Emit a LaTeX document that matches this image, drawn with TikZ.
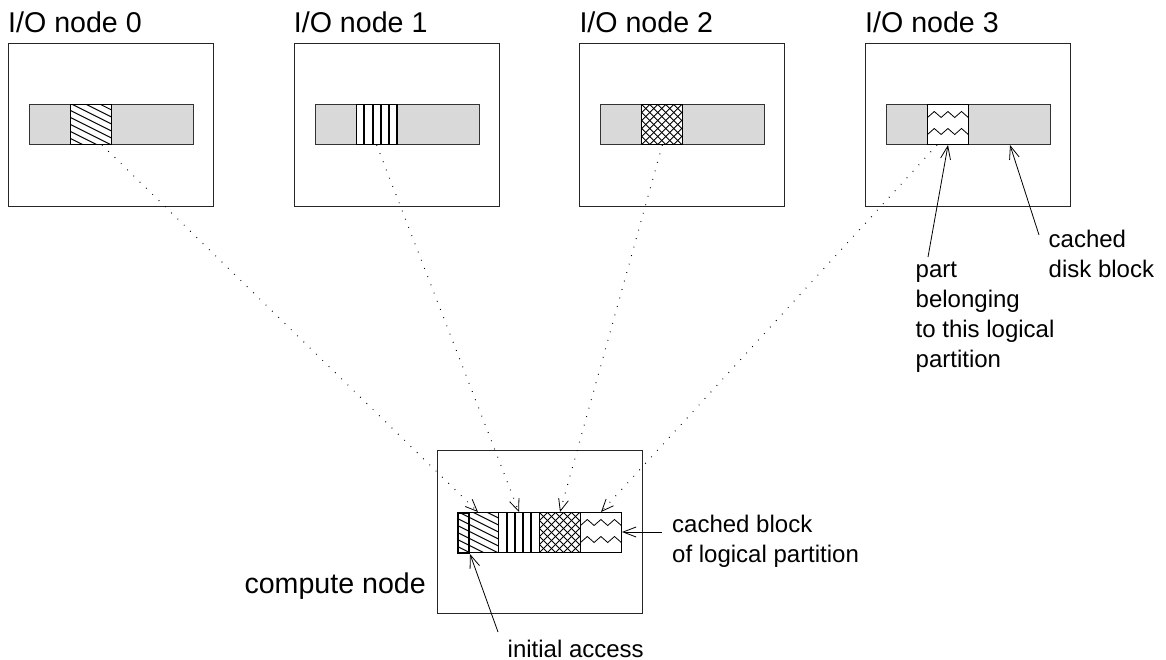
\documentclass[tikz,border=0pt]{standalone}
\usepackage{fontspec}
\setmainfont{Liberation Sans}
\usetikzlibrary{arrows.meta}
\definecolor{barfill}{HTML}{D9D9D9}
\begin{document}
\begin{tikzpicture}[x=1pt,y=-1pt,
  nodebox/.style={draw=black!85, line width=1pt, minimum width=205pt, minimum height=163pt, inner sep=0pt, anchor=north west},
  bar/.style={draw=black!80, fill=barfill, line width=1pt, minimum width=164pt, minimum height=40pt, inner sep=0pt, anchor=north west},
  seg/.style={draw=black, line width=1pt, fill=white, minimum width=41pt, minimum height=40pt, inner sep=0pt, anchor=north west},
  diaghatch/.style={path picture={\foreach \k in {-5,...,7} \draw[line width=0.9pt] ([yshift=-6pt-7pt*\k]path picture bounding box.north west) -- ++(50,25);}},
  crosshatch/.style={path picture={\foreach \k in {-7,...,12} {\draw[line width=0.8pt] ([xshift=8pt*\k]path picture bounding box.north west) -- ++(50,50); \draw[line width=0.8pt] ([xshift=8pt*\k]path picture bounding box.north west) -- ++(-50,50);}}},
  stripes/.style={path picture={\foreach \k in {1,...,5} \draw[line width=2pt] ([xshift=8.2pt*\k]path picture bounding box.north west) -- ++(0,45);}},
  zigzag/.style={path picture={\foreach \o in {13,30} \draw[line width=0.8pt] ([yshift=-\o pt]path picture bounding box.north west) -- ++(6.8,-6) -- ++(6.8,6) -- ++(6.8,-6) -- ++(6.8,6) -- ++(6.8,-6) -- ++(6.8,6);}},
  big/.style={font=\fontsize{28.6}{34}\selectfont, inner sep=0pt, anchor=base west},
  small/.style={font=\fontsize{24}{30}\selectfont, inner sep=0pt, anchor=base west, align=left},
  link/.style={line width=1pt, dash pattern=on 0.8pt off 8pt, -{Straight Barb[length=12pt,width=10pt,line width=0.8pt]}},
  pointer/.style={line width=0.8pt, -{Straight Barb[length=13pt,width=10pt]}},
]
\useasboundingbox (0,0) rectangle (1166,660);

% I/O nodes
\foreach \i/\bx/\pat in {0/8/diaghatch, 1/293.7/stripes, 2/579.3/crosshatch, 3/865/zigzag} {
  \node[nodebox] (io\i) at (\bx,43) {};
  \node[bar] (bar\i) at (\bx+21,104) {};
  \node[seg,\pat] (seg\i) at (\bx+62,104) {};
  \node[big] (lab\i) at (\bx,33) {I/O node \i};
}

% compute node
\node[nodebox] (cn) at (437,450) {};
\node[bar, fill=white] (cbar) at (457,512) {};
\node[seg,diaghatch] (cseg0) at (457,512) {};
\node[seg,stripes] (cseg1) at (498,512) {};
\node[seg,crosshatch] (cseg2) at (539,512) {};
\node[seg,zigzag] (cseg3) at (580,512) {};
\node[draw=black, line width=2pt, minimum width=11pt, minimum height=40pt, inner sep=0pt, anchor=north west] (init) at (457,512) {};
\node[big, anchor=base east] (cnlab) at (426,593) {compute node};

% labels (base anchor = baseline of last line)
\node[small] (cblab) at (672,562) {cached block\\of logical partition};
\node[small] (partlab) at (915.5,367) {part\\belonging\\to this logical\\partition};
\node[small] (cdlab) at (1048.5,277) {cached\\disk block};
\node[small] (initlab) at (507.5,657) {initial access};

% coordinates
\coordinate (d0s) at (102,145);
\coordinate (d3s) at (937,145);
\coordinate (partTail) at (928,257);
\coordinate (cdTail) at (1039,235);
\coordinate (cdTip) at (1010,145);
\coordinate (cbTail) at (662,532);
\coordinate (cbTip) at (622,532);
\coordinate (initTail) at (498,632);
\coordinate (initTip) at (470,554);

% dotted links
\draw[link] (d0s) -- (cseg0.north);
\draw[link] (seg1.south) -- (cseg1.north);
\draw[link] (seg2.south) -- (cseg2.north);
\draw[link] (d3s) -- (cseg3.north);

% pointers
\draw[pointer] (partTail) -- (seg3.south);
\draw[pointer] (cdTail) -- (cdTip);
\draw[pointer] (cbTail) -- (cbTip);
\draw[pointer] (initTail) -- (initTip);
\end{tikzpicture}
\end{document}
